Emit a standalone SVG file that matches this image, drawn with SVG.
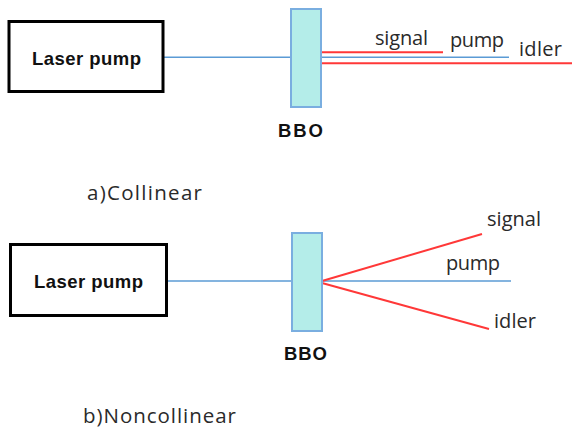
<svg xmlns="http://www.w3.org/2000/svg" width="572" height="430" viewBox="0 0 572 430">
<style>
.box{fill:#ffffff;stroke:#000000;stroke-width:3}
.bbo{fill:#b4ede9;stroke:#7aaee0;stroke-width:2}
.blue{stroke:#5b9bd5;stroke-width:1.5;fill:none}
.red{stroke:#ff3838;stroke-width:2;fill:none}
.bold{font-family:"Liberation Sans",Arial,sans-serif;font-weight:bold;font-size:18.5px;fill:#111111}
.lbl{font-family:"Open Sans","Liberation Sans",sans-serif;font-size:20px;fill:#2a2a2a}
.cap{font-family:"Open Sans","Liberation Sans",sans-serif;font-size:20.5px;fill:#2a2a2a}
</style>
<rect width="572" height="430" fill="#ffffff"/>
<g id="connectors">
  <line class="blue" x1="163" y1="57.3" x2="291" y2="57.3"/>
  <line class="red" x1="321" y1="52.3" x2="443" y2="52.3"/>
  <line class="blue" x1="321" y1="57.3" x2="509" y2="57.3"/>
  <line class="red" x1="322" y1="63.3" x2="572" y2="63.3"/>
  <line class="blue" x1="167" y1="281" x2="292" y2="281"/>
  <line class="blue" x1="322" y1="281" x2="511" y2="281"/>
  <line class="red" x1="322" y1="281" x2="482" y2="234"/>
  <line class="red" x1="322" y1="283" x2="489" y2="329"/>
</g>
<g id="laser-a">
  <rect class="box" x="9" y="21.5" width="154" height="70"/>
  <text class="bold" x="32" y="65" textLength="109">Laser pump</text>
</g>
<g id="bbo-a">
  <rect class="bbo" x="291" y="9" width="30" height="98"/>
  <text class="bold" x="278" y="137" textLength="45">BBO</text>
</g>
<g id="labels-a">
  <text class="lbl" x="375" y="45" textLength="53">signal</text>
  <text class="lbl" x="450" y="47" textLength="54">pump</text>
  <text class="lbl" x="519" y="56" textLength="43">idler</text>
  <text class="cap" x="87" y="200" textLength="115">a)Collinear</text>
</g>
<g id="laser-b">
  <rect class="box" x="10.5" y="244.5" width="156" height="71"/>
  <text class="bold" x="34" y="288" textLength="109">Laser pump</text>
</g>
<g id="bbo-b">
  <rect class="bbo" x="292" y="233" width="30" height="98"/>
  <text class="bold" x="284" y="360" textLength="43">BBO</text>
</g>
<g id="labels-b">
  <text class="lbl" x="487" y="226" textLength="54">signal</text>
  <text class="lbl" x="446" y="270" textLength="54">pump</text>
  <text class="lbl" x="494" y="328" textLength="42">idler</text>
  <text class="cap" x="83" y="423" textLength="153">b)Noncollinear</text>
</g>
</svg>
